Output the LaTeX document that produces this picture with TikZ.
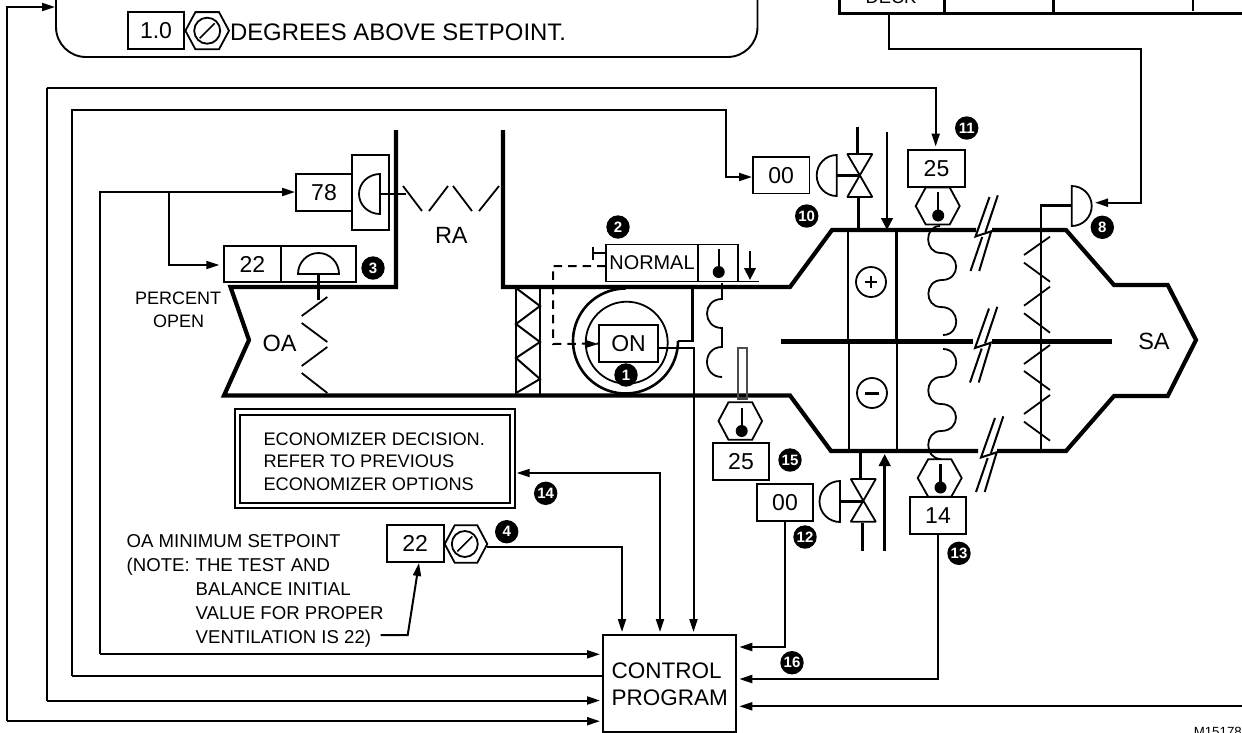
\documentclass[tikz,border=0pt]{standalone}
\usepackage{fontspec}
\setmainfont{Liberation Sans}
\usetikzlibrary{arrows.meta,calc}
\tikzset{
  wire/.style={line width=2pt,draw=black,line join=miter},
  tip/.style={-{Triangle[length=13pt,width=8pt]}},
  bigtip/.style={-{Triangle[length=12pt,width=11.5pt]}},
  duct/.style={line width=4.2pt,line join=miter,miter limit=6},
  coilwall/.style={line width=2.8pt},
  thinln/.style={line width=1.8pt},
  box/.style={draw,line width=1.9pt,inner sep=0pt,outer sep=0pt,align=center,font=\fontsize{23}{27}\selectfont},
  badge/.style={circle,fill=black,inner sep=0pt,minimum size=23.4pt,text=white,font=\fontsize{15}{15}\selectfont\bfseries},
  big/.style={inner sep=0pt,outer sep=0pt,anchor=base west,font=\fontsize{22.5}{27}\selectfont},
  small/.style={inner sep=0pt,outer sep=0pt,anchor=base west,font=\fontsize{18.6}{22}\selectfont},
}
% half ellipse actuator: flat side x, mid y, half height, signed width
\newcommand{\halfact}[4]{%
  \pgfmathsetmacro\hxA{#1+#4}\pgfmathsetmacro\hxB{#2-#3}\pgfmathsetmacro\hxC{#2+#3}%
  \pgfmathsetmacro\hxD{#1+.5523*#4}\pgfmathsetmacro\hxE{#2-.5523*#3}\pgfmathsetmacro\hxF{#2+.5523*#3}%
  \draw[thinln] (#1,\hxB) .. controls (\hxD,\hxB) and (\hxA,\hxE) .. (\hxA,#2) .. controls (\hxA,\hxF) and (\hxD,\hxC) .. (#1,\hxC) -- cycle;}
% hexagon: cx, cy, half width, half height, inset
\newcommand{\hexa}[5]{%
  \draw[thinln] ($(#1,#2)+(-#3,0)$) -- ($(#1,#2)+(-#3+#5,-#4)$) -- ($(#1,#2)+(#3-#5,-#4)$) -- ($(#1,#2)+(#3,0)$) -- ($(#1,#2)+(#3-#5,#4)$) -- ($(#1,#2)+(-#3+#5,#4)$) -- cycle;}
% thermometer bulb: x, top y, bulb y
\newcommand{\thermo}[3]{%
  \draw[line width=2.4pt] (#1,#2) -- (#1,#3);
  \fill (#1,#3) circle[radius=6pt];}
% valve: x, top y, mid y, bottom y
\newcommand{\valve}[4]{%
  \draw[line width=1.8pt,line join=bevel] ($(#1,#2)+(-12.5,0)$) -- ($(#1,#2)+(12.5,0)$) -- (#1,#3) -- ($(#1,#4)+(12.5,0)$) -- ($(#1,#4)+(-12.5,0)$) -- (#1,#3) -- cycle;}
% lightning break: cx, cy
\newcommand{\breakmark}[2]{%
  \draw[line width=2pt,shift={(#1,#2)}] (7,-33) -- (-7,6.5) -- (8.7,1.3) -- (-3.3,41);
  \draw[line width=2pt,shift={(#1,#2)}] (15.3,-34.7) -- (3,2);
  \draw[line width=2pt,shift={(#1,#2)}] (-0.3,7) -- (-12,41);}
\begin{document}
\begin{tikzpicture}[x=1pt,y=-1pt]
\useasboundingbox (0,0) rectangle (1242,732);
\clip (0,0) rectangle (1242,732);

% ---- top panel
\draw[line width=1.9pt,rounded corners=30pt] (56,-6) -- (56,57) -- (757.5,57) -- (757.5,-6);
\node[box,minimum width=56pt,minimum height=37pt] (b10) at (156,30.5) {1.0};
\hexa{207.2}{30.7}{21.8}{18.6}{10}
\draw[thinln] (207.2,30.7) circle[radius=13pt];
\draw[line width=1.6pt] (199.7,38.2) -- (214.7,23.2);
\node[big,font=\fontsize{23.9}{27}\selectfont] (tdeg) at (230,40.3) {DEGREES ABOVE SETPOINT.};

% ---- top right table
\draw[line width=2.4pt] (839.3,-2) -- (839.3,13.3) -- (1244,13.3);
\draw[line width=2.4pt] (944.3,-2) -- (944.3,13.3);
\draw[line width=2.4pt] (1053.3,-2) -- (1053.3,13.3);
\draw[line width=2.4pt] (1192.7,-2) -- (1192.7,11);
\node[inner sep=0pt,anchor=base,font=\fontsize{18.3}{22}\selectfont] (tdeck) at (891,3.6) {DECK};
\coordinate (deckout) at (889.3,13.3);

% ---- duct
\draw[duct] (396,130) -- (396,287) -- (230.5,287) -- (249,340) -- (224,395.5) -- (790,395.5) -- (831,451) -- (978,451);
\draw[duct] (997,451) -- (1066,451) -- (1114,396) -- (1167.7,396) -- (1196,340) -- (1167.7,285) -- (1114,285) -- (1066,230) -- (992,230);
\draw[duct] (976,230) -- (832,230) -- (790,287) -- (503,287) -- (503,130);
\draw[duct] (781,341.5) -- (973,341.5);
\draw[duct] (991.7,341.5) -- (1112.3,341.5);
\breakmark{982.5}{230}
\breakmark{982}{341.5}
\breakmark{988}{451}
\node[big,font=\fontsize{23.5}{27}\selectfont] (tra) at (435,243) {RA};
\node[big,font=\fontsize{23.5}{27}\selectfont] (toa) at (262.7,351.7) {OA};
\node[big,font=\fontsize{23.5}{27}\selectfont] (tsa) at (1138.3,349.3) {SA};

% ---- return and outside air dampers
\foreach \a/\b/\c/\d in {403/186/422/211,429/211/448/186,453/186/472/211,479/211/499/186,
   301.7/316/327.3/297,301.7/323/327.3/342,327.3/347/301.7/366,301.7/373/327.3/393,
   1050/236.7/1024/255,1024/262.7/1050/281.7,1050/286.7/1024/305.7,1024/313.3/1050/332.7,
   1050/345/1024/364,1024/371/1050/390,1050/395/1024/414,1024/421.7/1050/440.7}
  \draw[thinln] (\a,\b) -- (\c,\d);

% ---- 78 actuator
\node[box,minimum width=56pt,minimum height=37pt] (b78) at (324,192.5) {78};
\draw[line width=1.9pt] (352,155) rectangle (389,230);
\halfact{380}{194}{20}{-21}
\draw[line width=2.4pt] (380,193.7) -- (406,193.7);

% ---- 22 damper actuator
\node[box,minimum width=57pt,minimum height=36pt] (b22a) at (252.5,264) {22};
\draw[line width=1.9pt] (281,246) rectangle (356,282);
\draw[thinln] (298,274) .. controls (298,262.4) and (307.2,253) .. (318.5,253) .. controls (329.8,253) and (339,262.4) .. (339,274) -- cycle;
\draw[line width=2.6pt] (318.5,274) -- (318.5,300);

% ---- filter
\draw[coilwall] (516,287) -- (516,395);
\draw[coilwall] (540,287) -- (540,395);
\draw[line width=2pt] (516,288) -- (540,306) -- (516,324) -- (540,342) -- (516,358) -- (540,379) -- (516,393);

% ---- fan
\draw[line width=2.6pt] plot[domain=0:270,samples=70] ({625.5+52.5*cos(\x)},{341+52.5*sin(\x)});
\draw[line width=2.6pt] (678,341) -- (692.3,341) -- (692.3,287);
\draw[thinln] (626.7,342.7) circle[radius=41pt];
\node[box,minimum width=59pt,minimum height=37pt] (bon) at (628.5,343.5) {ON};

% ---- normal box + sensor
\node[box,minimum width=92.5pt,minimum height=37pt,font=\fontsize{19.9}{24}\selectfont] (bnorm) at (652,263) {NORMAL};
\draw[line width=1.9pt] (698,244.5) rectangle (737.7,281.5);
\thermo{718.7}{249}{272}
\draw[line width=1.9pt] (737.7,281.5) -- (759,281.5);
\draw[line width=2.2pt,bigtip] (750,251) -- (750,280);
\draw[line width=2.6pt] (593,247) -- (593,260);
\draw[line width=1.9pt] (593,253) -- (605,253);
\coordinate (dashst) at (605.7,266);
\coordinate (dashc1) at (553,266);
\coordinate (dashc2) at (553,344);
\draw[wire,dash pattern=on 8.5pt off 6pt] (dashst) -- (dashc1) -- (dashc2) -- (bon.west);
\draw[line width=1.9pt,-{Triangle[length=13pt,width=8pt]}] (585,344) -- (598,344);

% ---- small coil after fan
\draw[line width=1.8pt] (722,283) -- (722,299) .. controls (702,299) and (702,328) .. (722,328) -- (722,347) .. controls (702,347) and (702,377) .. (722,377);

% ---- mixed air sensor
\draw[line width=1.7pt,draw=black!70] (738,348) rectangle (746.7,399);
\fill[black!75] (738,396.5) rectangle (746.7,400);
\hexa{740.3}{421}{21.8}{18.8}{10}
\thermo{741.7}{408}{431}
\node[box,minimum width=56.5pt,minimum height=37pt] (b25b) at (741,461.5) {25};

% ---- coils
\draw[coilwall] (848,230) -- (848,341.5);
\draw[coilwall] (896.3,230) -- (896.3,341.5);
\draw[coilwall] (849,341.5) -- (849,451);
\draw[coilwall] (897,341.5) -- (897,451);
\draw[thinln] (871,282) circle[radius=15pt];
\draw[line width=2.6pt] (864.7,282) -- (877.3,282);
\draw[line width=2.6pt] (871,275.7) -- (871,288.3);
\draw[thinln] (872,393) circle[radius=15pt];
\draw[line width=3pt] (865,393) -- (879,393);
\draw[line width=2.8pt,bigtip] (887,132) -- (887,230);
\draw[line width=2.8pt,bigtip] (884.7,550.7) -- (884.7,454);

% ---- top valve
\node[box,minimum width=56.5pt,minimum height=36.5pt] (b00t) at (781.2,175.2) {00};
\halfact{836.7}{175.5}{20.5}{-20}
\draw[line width=2.2pt] (836.7,175.5) -- (859.5,175.5);
\valve{859.8}{154}{175.3}{197}
\draw[line width=2.6pt] (857.5,127) -- (857.5,154);
\draw[line width=2.6pt] (858.7,197) -- (858.7,230);

% ---- bottom valve
\node[box,minimum width=56.5pt,minimum height=37pt] (b00b) at (785,502.5) {00};
\halfact{840}{501.5}{20.5}{-20.5}
\draw[line width=2.2pt] (840,501.5) -- (863.3,501.5);
\valve{863.3}{479}{500.7}{521.7}
\draw[line width=2.6pt] (860.7,451) -- (860.7,479);
\draw[line width=2.6pt] (862.3,523) -- (862.3,551);

% ---- wavy coils
\draw[line width=1.8pt] (940,226) .. controls (924,226) and (924,253) .. (941,253)
   .. controls (961,253) and (961,280) .. (942,280)
   .. controls (924,280) and (924,307) .. (941,307)
   .. controls (961,307) and (961,335) .. (943,335);
\draw[line width=1.8pt] (943,349) .. controls (961,349) and (961,377) .. (941,377)
   .. controls (924,377) and (924,404) .. (941,404)
   .. controls (961,404) and (961,431) .. (941,431)
   .. controls (924,431) and (924,459) .. (941,459);

% ---- discharge sensors
\node[box,minimum width=57pt,minimum height=37pt] (b25t) at (936.5,168.5) {25};
\hexa{937.7}{206}{22}{18.5}{10}
\thermo{938.2}{192}{215.5}
\hexa{939.7}{478}{22}{18.8}{10.5}
\thermo{940.5}{464}{487.5}
\node[box,minimum width=56.5pt,minimum height=37.3pt] (b14) at (938,515.4) {14};

% ---- SA damper + actuator
\halfact{1071.7}{206}{20}{20}
\draw[line width=2.6pt] (1071.7,205.3) -- (1041,205.3) -- (1041,450);

% ---- economizer box
\node[draw,line width=1.9pt,inner sep=0pt,minimum width=280pt,minimum height=98.7pt] (eco) at (375,458.6) {};
\node[draw,line width=1.9pt,inner sep=0pt,minimum width=269.7pt,minimum height=87.7pt] (ecoin) at (375,458.9) {};
\node[small,font=\fontsize{18.2}{22}\selectfont] (e1) at (263.5,445) {ECONOMIZER DECISION.};
\node[small,font=\fontsize{18.2}{22}\selectfont] (e2) at (263.5,467.5) {REFER TO PREVIOUS};
\node[small,font=\fontsize{18.2}{22}\selectfont] (e3) at (263.5,490) {ECONOMIZER OPTIONS};

% ---- OA min setpoint
\node[small] (n1) at (126.7,547.7) {OA MINIMUM SETPOINT};
\node[small] (n2) at (126.7,571.7) {(NOTE:};
\node[small] (n2b) at (195.7,571.7) {THE TEST AND};
\node[small] (n3) at (195.7,595.7) {BALANCE INITIAL};
\node[small] (n4) at (195.7,619.7) {VALUE FOR PROPER};
\node[small] (n5) at (195.7,643.3) {VENTILATION IS 22)};
\node[box,minimum width=57pt,minimum height=37pt] (b22m) at (415.2,543.5) {22};
\hexa{466}{544}{21.3}{18.7}{10}
\draw[thinln] (464.8,544) circle[radius=13pt];
\draw[line width=1.6pt] (457.3,551.5) -- (472.3,536.5);
\coordinate (hexm) at (487.3,546.7);
\coordinate (notest) at (380.7,635);
\coordinate (notec) at (407.7,635);
\coordinate (noteend) at (419,563);
\draw[wire,tip] (notest) -- (notec) -- (noteend);

\node[inner sep=0pt,anchor=base west,font=\fontsize{18}{22}\selectfont] (tp) at (135,304.3) {PERCENT};
\node[inner sep=0pt,anchor=base west,font=\fontsize{18}{22}\selectfont] (to) at (153,327) {OPEN};

% ---- control program
\node[box,anchor=north west,minimum width=132.7pt,minimum height=97pt] (cp) at (603.3,635) {};
\node[big] (cp1) at (611.7,678) {CONTROL};
\node[big] (cp2) at (611.7,705.7) {PROGRAM};
\coordinate (cpT1) at (622,632);
\coordinate (cpT2) at (660,632);
\coordinate (cpT3) at (693.5,632);
\coordinate (cpL1) at (600,654.3);
\coordinate (cpL2) at (603.3,675.5);
\coordinate (cpL3) at (600,700.5);
\coordinate (cpL4) at (600,721.2);
\coordinate (cpR1) at (739.3,647);
\coordinate (cpR2) at (739.3,679);
\coordinate (cpR3) at (739.3,706.3);

% ---- connectors
\draw[wire,tip] (6.5,721.2) |- (55,7);
\draw[wire,tip] (6.5,721.2) -- (cpL4);
\draw[wire,tip] (46.7,87.5) -- (935.7,87.5) -- (935.7,146.5);
\draw[wire] (46.7,87.5) -- (46.7,700.5);
\draw[wire,tip] (46.7,700.5) -- (cpL3);
\draw[wire] (71.5,675.5) -- (cpL2);
\draw[wire,tip] (71.5,675.5) -- (71.5,110) -- (725.5,110) -- (725.5,177) -- (752,177);
\draw[wire,tip] (100,654.3) -- (cpL1);
\draw[wire,tip] (100,654.3) -- (100,192) -- (295,192);
\draw[wire,tip] (169,193) -- (169,265) -- (219.3,265);
\draw[wire,tip] (hexm) -| (cpT1);
\draw[wire,tip] (660,560) -- (cpT2);
\draw[wire,tip] (660,560) -- (660,473) -- (516.7,473);
\draw[wire,tip] (bon.east |- 0,348) -- (693.5,348) -- (cpT3);
\draw[wire,tip] (deckout) -- (889.3,48.7) -- (1141,48.7) -- (1141,202.7) -- (1095,202.7);
\draw[wire,tip] (785.3,521) -- (785.3,647) -- (cpR1);
\draw[wire,tip] (938,534) -- (938,679) -- (cpR2);
\draw[wire,tip] (1244,706.3) -- (cpR3);

% ---- badges
\node[badge] (m1) at (626,375) {1};
\node[badge] (m2) at (618,227) {2};
\node[badge] (m3) at (373,268) {3};
\node[badge] (m4) at (506.7,531.7) {4};
\node[badge] (m8) at (1102.3,227.3) {8};
\node[badge] (m10) at (806.7,216) {10};
\node[badge] (m11) at (966.7,128) {11};
\node[badge] (m12) at (805,537) {12};
\node[badge] (m13) at (959,553.3) {13};
\node[badge] (m14) at (545.7,493.3) {14};
\node[badge] (m15) at (790,460) {15};
\node[badge] (m16) at (792,662.7) {16};

\node[inner sep=0pt,anchor=base east,font=\fontsize{13.3}{16}\selectfont] (mref) at (1242,736.5) {M15178};
\end{tikzpicture}
\end{document}
